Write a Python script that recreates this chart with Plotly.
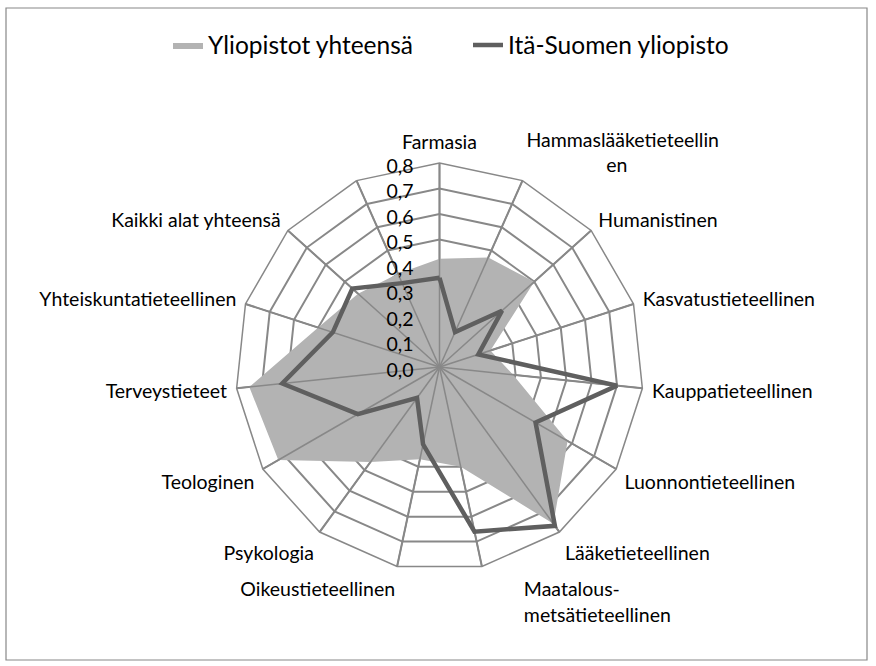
import plotly.graph_objects as go

# ---- data ----
categories = [
    "Farmasia", "Hammaslääketieteellinen", "Humanistinen", "Kasvatustieteellinen",
    "Kauppatieteellinen", "Luonnontieteellinen", "Lääketieteellinen",
    "Maatalous-metsätieteellinen", "Oikeustieteellinen", "Psykologia", "Teologinen",
    "Terveystieteet", "Yhteiskuntatieteellinen", "Kaikki alat yhteensä", " ",
]
NB = "\u00a0"
tick_labels = [
    "Farmasia", "Hammaslääketieteellin<br>" + NB * 16 + "en", "Humanistinen",
    "Kasvatustieteellinen", "Kauppatieteellinen", "Luonnontieteellinen", "Lääketieteellinen",
    NB * 8 + "Maatalous-<br>" + NB * 8 + "metsätieteellinen", "Oikeustieteellinen",
    "Psykologia", "Teologinen", "Terveystieteet", "Yhteiskuntatieteellinen",
    "Kaikki alat yhteensä", "",
]
yliopistot_yhteensa = [0.425, 0.47, 0.50, 0.21, 0.29, 0.58, 0.76, 0.40, 0.37, 0.46,
                       0.73, 0.75, 0.50, 0.43, 0.40]
ita_suomen_yliopisto = [0.35, 0.15, 0.33, 0.16, 0.70, 0.435, 0.77, 0.66, 0.31, 0.15,
                        0.37, 0.62, 0.44, 0.46, 0.36]
radial_ticks = [0.0, 0.1, 0.2, 0.3, 0.4, 0.5, 0.6, 0.7, 0.8]

FONT = "Lato"
GRID = "#888888"

def closed(v):
    return list(v) + [v[0]]

fig = go.Figure()

fig.add_trace(go.Scatterpolar(
    r=closed(yliopistot_yhteensa), theta=closed(categories),
    name="Yliopistot yhteensä", mode="lines", fill="toself",
    fillcolor="#b3b3b3", line=dict(width=0, color="#b3b3b3"),
))

# spokes drawn above the filled area (as in the original)
spoke_r, spoke_t = [], []
for c in categories:
    spoke_r += [radial_ticks[0], radial_ticks[-1], None]
    spoke_t += [c, c, c]
fig.add_trace(go.Scatterpolar(
    r=spoke_r, theta=spoke_t, mode="lines", line=dict(color=GRID, width=1.5),
    showlegend=False, hoverinfo="skip", connectgaps=False,
))

fig.add_trace(go.Scatterpolar(
    r=closed(ita_suomen_yliopisto), theta=closed(categories),
    name="Itä-Suomen yliopisto", mode="lines",
    line=dict(color="#5f5f5f", width=4.5),
))

W, H = 876, 666
cx, cy, R = 439.5, 367, 204
fig.update_layout(
    width=W, height=H,
    margin=dict(l=0, r=0, t=0, b=0),
    paper_bgcolor="white", plot_bgcolor="white",
    separators=", ",
    font=dict(family=FONT, color="#000000", size=19.5),
    showlegend=True,
    legend=dict(orientation="h", x=168 / W, xanchor="left", y=1 - 45 / H, yanchor="middle",
                font=dict(size=24.5, family=FONT), bgcolor="rgba(0,0,0,0)",
                entrywidth=255, entrywidthmode="pixels"),
    polar=dict(
        domain=dict(x=[(cx - R) / W, (cx + R) / W], y=[(H - cy - R) / H, (H - cy + R) / H]),
        bgcolor="white",
        gridshape="linear",
        radialaxis=dict(
            range=[0, 0.8], tickvals=radial_ticks, tickformat=".1f",
            angle=90, side="counterclockwise", showline=False,
            gridcolor=GRID, gridwidth=1.5, ticks="outside", ticklen=8,
            tickcolor="rgba(0,0,0,0)", tickfont=dict(size=19.5),
            layer="above traces",
        ),
        angularaxis=dict(
            direction="clockwise", rotation=90, categoryorder="array",
            categoryarray=categories, tickmode="array", tickvals=categories,
            ticktext=tick_labels, linecolor=GRID, linewidth=1.5,
            gridcolor=GRID, gridwidth=1.5, ticks="outside", ticklen=5,
            tickcolor="rgba(0,0,0,0)", tickfont=dict(size=19.5),
        ),
    ),
    shapes=[dict(type="rect", xref="paper", yref="paper",
                 x0=6 / W, x1=867 / W, y0=1 - 660 / H, y1=1 - 8 / H,
                 line=dict(color="#888888", width=1.2))],
)

fig.write_html(
    "out.html",
    config={"displayModeBar": False},
    post_script="document.body.style.margin='0';document.body.style.overflow='hidden';",
)
